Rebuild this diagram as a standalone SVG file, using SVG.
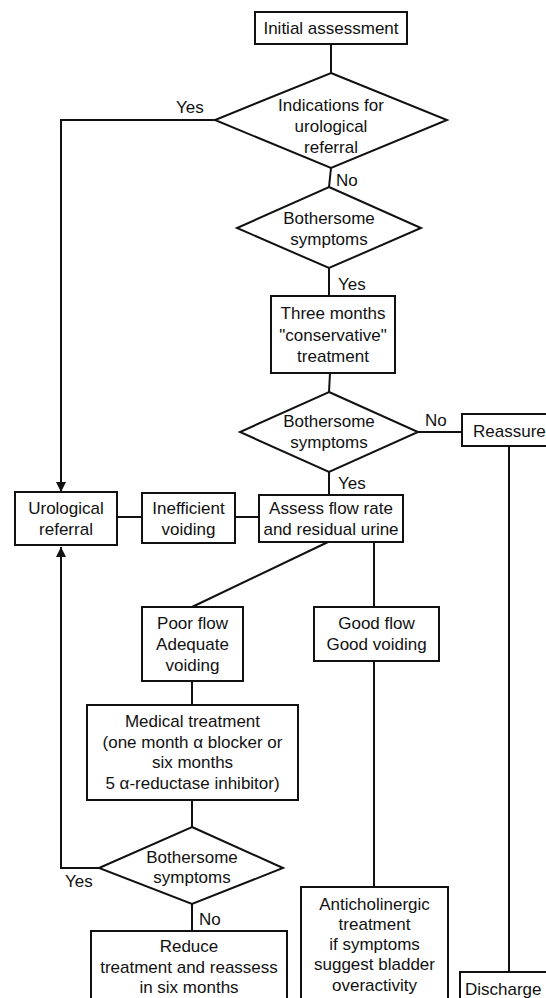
<svg xmlns="http://www.w3.org/2000/svg" width="546" height="998" viewBox="0 0 546 998">
<style>
  .box { fill: #fff; stroke: #111; stroke-width: 2; }
  .ln { fill: none; stroke: #111; stroke-width: 2; }
  text { font-family: "Liberation Sans", Arial, sans-serif; font-size: 17px; fill: #111; }
  .c { text-anchor: middle; }
</style>
<defs>
  <marker id="arr" viewBox="0 0 10 10" refX="10" refY="5" markerWidth="10" markerHeight="10" markerUnits="userSpaceOnUse" orient="auto">
    <path d="M0,0 L10,5 L0,10 Z" fill="#111"/>
  </marker>
</defs>
<rect width="546" height="998" fill="#fff"/>

<g id="connectors">
  <line class="ln" x1="331" y1="44" x2="331" y2="73"/>
  <polyline class="ln" points="215,120 61,120 61,492" marker-end="url(#arr)"/>
  <line class="ln" x1="331" y1="168" x2="329" y2="187"/>
  <line class="ln" x1="329" y1="268" x2="329" y2="296"/>
  <line class="ln" x1="330" y1="373" x2="329" y2="392"/>
  <line class="ln" x1="418" y1="432" x2="462" y2="432"/>
  <line class="ln" x1="509" y1="446" x2="509" y2="972"/>
  <line class="ln" x1="329" y1="472" x2="329" y2="495"/>
  <line class="ln" x1="117" y1="517" x2="142" y2="517"/>
  <line class="ln" x1="235" y1="517" x2="259" y2="517"/>
  <line class="ln" x1="328" y1="542" x2="192" y2="607"/>
  <line class="ln" x1="374" y1="542" x2="374" y2="607"/>
  <line class="ln" x1="374" y1="661" x2="374" y2="887"/>
  <line class="ln" x1="192" y1="681" x2="192" y2="705"/>
  <line class="ln" x1="192" y1="800" x2="192" y2="827"/>
  <polyline class="ln" points="99,868 61,868 61,547" marker-end="url(#arr)"/>
  <line class="ln" x1="192" y1="904" x2="192" y2="931"/>
  <text x="176" y="113">Yes</text>
  <text x="336" y="186">No</text>
  <text x="338" y="290">Yes</text>
  <text x="425" y="426">No</text>
  <text x="338" y="489">Yes</text>
  <text x="65" y="887">Yes</text>
  <text x="199" y="925">No</text>
</g>

<g id="initial">
  <rect class="box" x="255" y="12" width="152" height="32"/>
  <text class="c" x="331" y="34">Initial assessment</text>
</g>

<g id="indications">
  <polygon class="box" points="331,73 447,120 331,168 215,120"/>
  <text class="c" x="331" y="111">Indications for</text>
  <text class="c" x="331" y="132">urological</text>
  <text class="c" x="331" y="153">referral</text>
</g>

<g id="bothersome1">
  <polygon class="box" points="329,187 421,228 329,268 237,228"/>
  <text class="c" x="329" y="224">Bothersome</text>
  <text class="c" x="329" y="245">symptoms</text>
</g>

<g id="conservative">
  <rect class="box" x="271" y="296" width="124" height="77"/>
  <text class="c" x="333" y="319">Three months</text>
  <text class="c" x="333" y="341">"conservative"</text>
  <text class="c" x="333" y="362">treatment</text>
</g>

<g id="bothersome2">
  <polygon class="box" points="329,392 418,432 329,472 240,432"/>
  <text class="c" x="329" y="427">Bothersome</text>
  <text class="c" x="329" y="448">symptoms</text>
</g>

<g id="reassure">
  <rect class="box" x="462" y="414" width="90" height="32"/>
  <text x="473" y="437">Reassure</text>
</g>

<g id="urological">
  <rect class="box" x="15" y="492" width="102" height="53"/>
  <text class="c" x="66" y="514">Urological</text>
  <text class="c" x="66" y="535">referral</text>
</g>

<g id="inefficient">
  <rect class="box" x="142" y="493" width="93" height="50"/>
  <text class="c" x="188.5" y="514">Inefficient</text>
  <text class="c" x="188.5" y="535">voiding</text>
</g>

<g id="assess">
  <rect class="box" x="259" y="495" width="144" height="47"/>
  <text class="c" x="331" y="514">Assess flow rate</text>
  <text class="c" x="331" y="535">and residual urine</text>
</g>

<g id="poorflow">
  <rect class="box" x="142" y="607" width="101" height="74"/>
  <text class="c" x="192.5" y="629">Poor flow</text>
  <text class="c" x="192.5" y="650">Adequate</text>
  <text class="c" x="192.5" y="671">voiding</text>
</g>

<g id="goodflow">
  <rect class="box" x="314" y="607" width="125" height="54"/>
  <text class="c" x="376.5" y="629">Good flow</text>
  <text class="c" x="376.5" y="650">Good voiding</text>
</g>

<g id="medical">
  <rect class="box" x="87" y="705" width="211" height="95"/>
  <text class="c" x="192.5" y="727">Medical treatment</text>
  <text class="c" x="192.5" y="748">(one month α blocker or</text>
  <text class="c" x="192.5" y="768">six months</text>
  <text class="c" x="192.5" y="789">5 α-reductase inhibitor)</text>
</g>

<g id="bothersome3">
  <polygon class="box" points="192,827 283,868 192,904 99,868"/>
  <text class="c" x="192" y="863">Bothersome</text>
  <text class="c" x="192" y="883">symptoms</text>
</g>

<g id="reduce">
  <rect class="box" x="91" y="931" width="196" height="80"/>
  <text class="c" x="189" y="952">Reduce</text>
  <text class="c" x="189" y="973">treatment and reassess</text>
  <text class="c" x="189" y="993">in six months</text>
</g>

<g id="anticholinergic">
  <rect class="box" x="301" y="887" width="147" height="124"/>
  <text class="c" x="374.5" y="910">Anticholinergic</text>
  <text class="c" x="374.5" y="930">treatment</text>
  <text class="c" x="374.5" y="950">if symptoms</text>
  <text class="c" x="374.5" y="970">suggest bladder</text>
  <text class="c" x="374.5" y="991">overactivity</text>
</g>

<g id="discharge">
  <rect class="box" x="460" y="972" width="92" height="40"/>
  <text x="465" y="995">Discharge</text>
</g>
</svg>
